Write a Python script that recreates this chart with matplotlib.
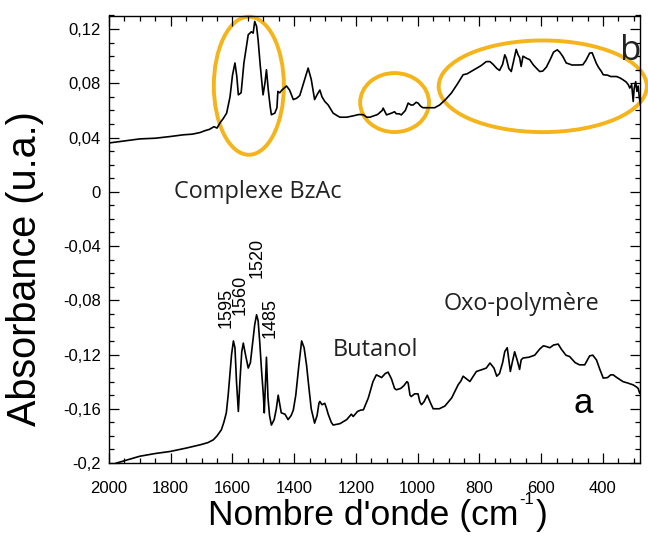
import matplotlib
matplotlib.use("Agg")
import matplotlib.pyplot as plt
from matplotlib.patches import Ellipse
from matplotlib.ticker import MultipleLocator, FixedLocator, FuncFormatter

# ---- data: spectrum b (Complexe BzAc) ----
wn_b = [2000, 1950, 1900, 1850, 1800, 1760, 1730, 1705, 1690, 1675, 1660, 1650, 1640, 1630,
        1619, 1608, 1600, 1592, 1586, 1581, 1572, 1563, 1555, 1549, 1539, 1533, 1528, 1522,
        1517, 1510, 1501, 1495, 1490, 1484, 1478, 1474, 1463, 1456, 1453, 1447, 1440, 1425,
        1415, 1403, 1392, 1382, 1370, 1355, 1345, 1334, 1325, 1317, 1310, 1301, 1290, 1274,
        1260, 1252, 1230, 1209, 1190, 1176, 1165, 1155, 1130, 1115, 1112, 1101, 1085, 1075,
        1069, 1060, 1053, 1040, 1031, 1022, 1015, 1005, 999, 990, 983, 970, 961, 945, 929,
        910, 891, 870, 853, 840, 825, 810, 795, 778, 766, 756, 744, 735, 725, 718, 713, 705,
        697, 688, 681, 675, 670, 665, 659, 648, 637, 626, 615, 605, 595, 583, 570, 560, 548,
        540, 530, 519, 500, 480, 465, 455, 443, 435, 422, 415, 405, 399, 385, 375, 367, 356,
        345, 335, 325, 318, 313, 307, 302, 299, 294, 290, 286, 282, 278]
abs_b = [0.036, 0.0375, 0.039, 0.0395, 0.0408, 0.042, 0.0425, 0.0437, 0.045, 0.046, 0.048,
         0.047, 0.051, 0.054, 0.058, 0.070, 0.086, 0.095, 0.085, 0.0715, 0.073, 0.095, 0.107,
         0.1158, 0.118, 0.117, 0.1256, 0.122, 0.112, 0.093, 0.0715, 0.080, 0.090, 0.075, 0.063,
         0.0568, 0.058, 0.062, 0.074, 0.073, 0.075, 0.078, 0.075, 0.068, 0.069, 0.071, 0.080,
         0.0912, 0.083, 0.068, 0.072, 0.075, 0.070, 0.0666, 0.064, 0.058, 0.056, 0.055, 0.055,
         0.056, 0.057, 0.0568, 0.055, 0.055, 0.057, 0.060, 0.0617, 0.0567, 0.058, 0.059,
         0.0575, 0.0575, 0.0567, 0.060, 0.0654, 0.064, 0.064, 0.066, 0.0654, 0.063, 0.062,
         0.062, 0.062, 0.062, 0.064, 0.068, 0.0728, 0.080, 0.0863, 0.087, 0.089, 0.091, 0.093,
         0.096, 0.096, 0.094, 0.091, 0.0895, 0.094, 0.101, 0.0985, 0.091, 0.0887, 0.098,
         0.105, 0.101, 0.099, 0.0924, 0.100, 0.0985, 0.0974, 0.0937, 0.091, 0.0887, 0.089,
         0.092, 0.098, 0.103, 0.1047, 0.103, 0.0998, 0.095, 0.0935, 0.0935, 0.0937, 0.097,
         0.1023, 0.1025, 0.095, 0.092, 0.0887, 0.0863, 0.086, 0.085, 0.085, 0.085, 0.084,
         0.0826, 0.081, 0.079, 0.0765, 0.079, 0.0666, 0.076, 0.0812, 0.074, 0.078, 0.069, 0.064]

# ---- data: spectrum a (Oxo-polymere) ----
wn_a = [2000, 1975, 1900, 1850, 1802, 1750, 1705, 1680, 1662, 1650, 1636, 1628, 1620, 1614,
        1609, 1603, 1597, 1592, 1587, 1581, 1576, 1570, 1565, 1558, 1549, 1542, 1535, 1528,
        1522, 1517, 1512, 1506, 1500, 1497, 1493, 1490, 1487, 1485, 1480, 1474, 1465, 1458,
        1452, 1446, 1442, 1430, 1420, 1410, 1403, 1395, 1385, 1376, 1368, 1360, 1355, 1345,
        1334, 1326, 1320, 1317, 1310, 1301, 1295, 1290, 1280, 1274, 1252, 1230, 1215, 1209,
        1195, 1185, 1176, 1160, 1145, 1134, 1125, 1117, 1105, 1096, 1085, 1075, 1069, 1055,
        1045, 1035, 1031, 1025, 1021, 1010, 999, 993, 988, 980, 969, 960, 950, 930, 912, 890,
        869, 860, 853, 831, 810, 790, 778, 766, 753, 744, 735, 725, 718, 710, 700, 693, 686,
        678, 670, 665, 659, 640, 621, 605, 593, 585, 572, 560, 545, 535, 520, 508, 490, 476,
        459, 443, 433, 421, 410, 399, 385, 375, 367, 355, 335, 320, 302, 291, 286, 283, 281]
abs_a = [-0.2025, -0.200, -0.195, -0.193, -0.1915, -0.189, -0.1866, -0.185, -0.1829, -0.180,
         -0.1755, -0.170, -0.163, -0.150, -0.136, -0.120, -0.110, -0.115, -0.140, -0.162,
         -0.140, -0.118, -0.1116, -0.120, -0.130, -0.126, -0.112, -0.098, -0.0907, -0.095,
         -0.110, -0.1313, -0.150, -0.163, -0.140, -0.122, -0.140, -0.152, -0.165, -0.172,
         -0.168, -0.160, -0.150, -0.158, -0.163, -0.164, -0.168, -0.165, -0.161, -0.150,
         -0.128, -0.110, -0.115, -0.128, -0.139, -0.160, -0.1706, -0.165, -0.156, -0.1546,
         -0.157, -0.156, -0.160, -0.164, -0.170, -0.172, -0.171, -0.168, -0.164, -0.1657,
         -0.162, -0.161, -0.1608, -0.152, -0.140, -0.135, -0.136, -0.137, -0.134, -0.133,
         -0.138, -0.145, -0.146, -0.145, -0.143, -0.140, -0.141, -0.150, -0.151, -0.149,
         -0.149, -0.155, -0.157, -0.155, -0.150, -0.155, -0.160, -0.160, -0.158, -0.152,
         -0.1423, -0.1395, -0.136, -0.1399, -0.1325, -0.131, -0.130, -0.1263, -0.130, -0.136,
         -0.134, -0.126, -0.1178, -0.115, -0.1325, -0.125, -0.118, -0.124, -0.131, -0.124,
         -0.1226, -0.122, -0.1205, -0.116, -0.1136, -0.114, -0.115, -0.113, -0.1123, -0.116,
         -0.1205, -0.1215, -0.126, -0.1276, -0.1276, -0.121, -0.1205, -0.124, -0.131, -0.1374,
         -0.137, -0.135, -0.135, -0.137, -0.140, -0.141, -0.1424, -0.144, -0.145, -0.147,
         -0.1485]

xticks = [2000, 1800, 1600, 1400, 1200, 1000, 800, 600, 400]
yticks = [-0.2, -0.16, -0.12, -0.08, -0.04, 0, 0.04, 0.08, 0.12]

peak_labels = ["1595", "1560", "1520", "1485"]
peak_x = [1619, 1576, 1521, 1479]
peak_y = [-0.1003, -0.0907, -0.0634, -0.1076]

# ellipses: (center wn, center abs, width wn, height abs)
ell_cx = [1547, 1075, 595]
ell_cy = [0.0782, 0.0658, 0.0778]
ell_w = [227, 223, 674]
ell_h = [0.1018, 0.0435, 0.0676]

ORANGE = "#F4B41A"
SANS = "Liberation Sans"
HUM = "Open Sans"

plt.rcParams["font.family"] = [SANS, "DejaVu Sans"]

W, H = 648, 540
fig = plt.figure(figsize=(W / 100, H / 100), dpi=100)
ax = fig.add_axes([109/W, 1-463/H, (640-109)/W, (463-15.5)/H])

ax.plot(wn_b, abs_b, color="black", lw=1.2)
ax.plot(wn_a, abs_a, color="black", lw=1.2)

ax.set_xlim(2000, 280)
ax.set_ylim(-0.2, 0.13)

ax.xaxis.set_major_locator(FixedLocator(xticks))
ax.xaxis.set_minor_locator(MultipleLocator(50))
ax.yaxis.set_major_locator(FixedLocator(yticks))
ax.yaxis.set_minor_locator(MultipleLocator(0.01))

def yfmt(v, pos):
    if abs(v) < 1e-9:
        return "0"
    s = f"{v:.2f}".rstrip("0")
    return s.replace(".", ",")

ax.yaxis.set_major_formatter(FuncFormatter(yfmt))
ax.xaxis.set_major_formatter(FuncFormatter(lambda v, p: f"{int(round(v))}"))

ax.tick_params(which="both", direction="in", top=True, right=True, labelsize=12,
               width=0.9, colors="black")
ax.tick_params(which="major", length=7)
ax.tick_params(which="minor", length=3.5)
ax.tick_params(axis="x", which="major", pad=13)
ax.tick_params(axis="y", which="major", pad=6)
for sp in ax.spines.values():
    sp.set_linewidth(1.0)

# y label
ax.set_ylabel("Absorbance (u.a.)", fontsize=28.5)
ax.yaxis.set_label_coords(-0.122, 0.435)

# x label built from pieces so the superscript keeps a plain hyphen
t1 = fig.text(208/W, 1-525/H, "Nombre d'onde (cm", fontsize=25.5, ha="left", va="baseline")
renderer = fig.canvas.get_renderer()
bb1 = t1.get_window_extent(renderer=renderer)
t2 = fig.text((bb1.x1 + 1)/W, 1-504/H, "-1", fontsize=12, ha="left", va="baseline")
bb2 = t2.get_window_extent(renderer=renderer)
t3 = fig.text((bb2.x1 + 2)/W, 1-525/H, ")", fontsize=25.5, ha="left", va="baseline")

for cx, cy, w, h in zip(ell_cx, ell_cy, ell_w, ell_h):
    ax.add_patch(Ellipse((cx, cy), w, h, fill=False, edgecolor=ORANGE, lw=2.8, clip_on=False))

for lab, x, y in zip(peak_labels, peak_x, peak_y):
    ax.text(x, y, lab, rotation=90, ha="center", va="bottom", fontsize=13, family=SANS)

ax.text(1789, -0.0044, "Complexe BzAc", fontsize=16.9, family=HUM, color="#222222",
        ha="left", va="baseline")
ax.text(1276, -0.1214, "Butanol", fontsize=16.9, family=HUM, color="#222222",
        ha="left", va="baseline")
ax.text(915, -0.087, "Oxo-polymère", fontsize=16.9, family=HUM, color="#222222",
        ha="left", va="baseline")
ax.text(497, -0.1632, "a", fontsize=25, family=SANS, ha="left", va="baseline")
ax.text(345, 0.0974, "b", fontsize=25, family=HUM, color="#222222", ha="left", va="baseline")

fig.savefig("out.png", dpi=100)
